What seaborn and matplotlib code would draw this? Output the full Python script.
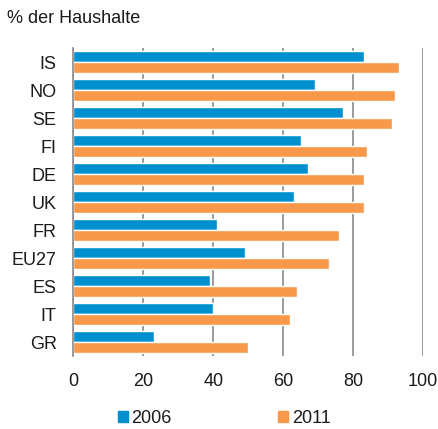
import pandas as pd
import matplotlib
matplotlib.use("Agg")
import matplotlib.pyplot as plt
import seaborn as sns

countries = ["IS", "NO", "SE", "FI", "DE", "UK", "FR", "EU27", "ES", "IT", "GR"]
years = ["2006", "2011"]
values_2006 = [83, 69, 77, 65, 67, 63, 41, 49, 39, 40, 23]
values_2011 = [93, 92, 91, 84, 83, 83, 76, 73, 64, 62, 50]
colors = ["#0090D0", "#F7984A"]

df = pd.DataFrame({
    "land": countries * 2,
    "jahr": [years[0]] * len(countries) + [years[1]] * len(countries),
    "wert": values_2006 + values_2011,
})

sns.set_theme(style="white")
plt.rcParams["font.family"] = ["Liberation Sans", "DejaVu Sans"]

fig = plt.figure(figsize=(4.39, 4.29), dpi=100)
ax = fig.add_axes([0.167, 0.170, 0.797, 0.718])

sns.barplot(data=df, x="wert", y="land", hue="jahr", order=countries,
            hue_order=years, palette=colors, width=0.76, orient="h",
            saturation=1, ax=ax, legend=False)

ax.set_xlim(0, 100)
ax.set_xticks([0, 20, 40, 60, 80, 100])
ax.set_xlabel("")
ax.set_ylabel("")
ax.set_axisbelow(True)
ax.grid(axis="x", color="#808080", linewidth=1.1)
ax.grid(axis="y", visible=False)
for side in ["top", "right", "bottom"]:
    ax.spines[side].set_visible(False)
ax.spines["left"].set_color("#808080")
ax.spines["left"].set_linewidth(1.1)
ax.tick_params(axis="both", length=0, labelsize=13, colors="#1a1a1a")
ax.tick_params(axis="y", pad=12)
ax.tick_params(axis="x", pad=12)

fig.text(0.016, 0.958, "% der Haushalte", fontsize=13, color="#1a1a1a",
         ha="left", va="center")

handles = [plt.Rectangle((0, 0), 1, 1, color=c) for c in colors]
fig.legend(handles, years, loc="center", bbox_to_anchor=(0.511, 0.025),
           ncol=2, frameon=False, fontsize=13, handlelength=0.55,
           handleheight=0.55, handletextpad=0.2, columnspacing=5.9,
           labelcolor="#1a1a1a")

fig.savefig("out.png", dpi=100)
